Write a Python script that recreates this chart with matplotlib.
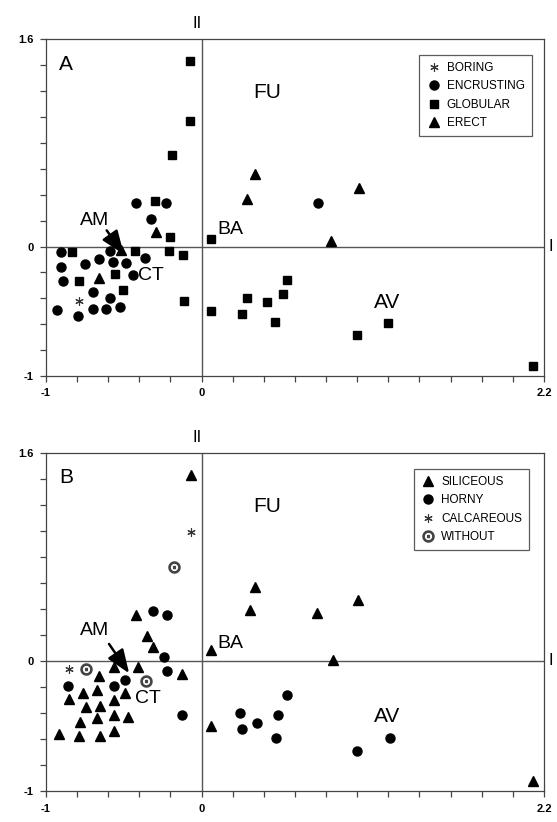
import matplotlib.pyplot as plt
import numpy as np
from matplotlib.ticker import FixedLocator, FixedFormatter

plt.rcParams['font.family'] = ['Liberation Sans', 'DejaVu Sans']

# Panel A: growth form
boring_x = [-0.785]
boring_y = [-0.42]
encrusting_x = [-0.42, -0.23, -0.327, 0.75, -0.906, -0.59, -0.906, -0.75, -0.66, -0.572,
                -0.487, -0.365, -0.893, -0.44, -0.697, -0.59, -0.927, -0.797, -0.697,
                -0.615, -0.526]
encrusting_y = [0.333, 0.333, 0.21, 0.333, -0.04, -0.034, -0.16, -0.136, -0.10, -0.12,
                -0.13, -0.092, -0.265, -0.22, -0.35, -0.40, -0.49, -0.54, -0.48,
                -0.48, -0.465]
globular_x = [-0.075, -0.075, -0.19, -0.30, -0.20, 0.058, -0.83, -0.43, -0.21, -0.12,
              -0.557, -0.786, -0.508, -0.114, 0.058, 0.257, 0.289, 0.42, 0.47, 0.52,
              0.55, 1.0, 1.2, 2.13]
globular_y = [1.435, 0.97, 0.705, 0.35, 0.077, 0.06, -0.04, -0.034, -0.034, -0.067,
              -0.213, -0.27, -0.336, -0.42, -0.50, -0.52, -0.40, -0.426, -0.585, -0.367,
              -0.26, -0.68, -0.59, -0.92]
erect_x = [-0.294, -0.659, 0.34, 0.29, 1.01, 0.83, -0.52]
erect_y = [0.112, -0.244, 0.56, 0.37, 0.45, 0.04, -0.03]

# Panel B: skeleton type
siliceous_x = [-0.07, 0.34, 0.31, 0.74, 1.005, 0.06, 0.845, 0.06, 2.13,
               -0.42, -0.35, -0.31, -0.124, -0.566, -0.41, -0.66, -0.67, -0.76, -0.85,
               -0.56, -0.49, -0.74, -0.65, -0.67, -0.56, -0.47, -0.78, -0.915, -0.79,
               -0.65, -0.56]
siliceous_y = [1.43, 0.57, 0.39, 0.37, 0.47, 0.08, 0.01, -0.50, -0.92,
               0.35, 0.19, 0.105, -0.10, -0.05, -0.045, -0.12, -0.22, -0.25, -0.295,
               -0.30, -0.25, -0.356, -0.35, -0.44, -0.415, -0.43, -0.47, -0.56, -0.58,
               -0.575, -0.535]
horny_x = [-0.31, -0.22, -0.24, -0.22, -0.124, -0.86, -0.566, -0.49, 0.55, 0.245, 0.49,
           0.26, 0.357, 0.48, 1.0, 1.21]
horny_y = [0.38, 0.35, 0.03, -0.08, -0.415, -0.19, -0.19, -0.15, -0.26, -0.40, -0.415,
           -0.525, -0.48, -0.595, -0.69, -0.595]
calcareous_x = [-0.066, -0.855]
calcareous_y = [0.99, -0.064]
without_x = [-0.18, -0.74, -0.36]
without_y = [0.72, -0.064, -0.154]

xticks = np.round(np.arange(-1, 2.21, 0.2), 1)
yticks = np.round(np.arange(-1, 1.61, 0.2), 1)
asterisk = (6, 2, 0)
am_arrow = dict(arrowstyle='-|>,head_length=0.9,head_width=0.35', color='black',
                lw=1.8, mutation_scale=16, shrinkA=0, shrinkB=0)


def setup_axes(ax, letter):
    ax.set_xlim(-1, 2.2)
    ax.set_ylim(-1, 1.6)
    ax.axhline(0, color='#555555', lw=1.0, zorder=1)
    ax.axvline(0, color='#555555', lw=1.0, zorder=1)
    for s in ax.spines.values():
        s.set_color('#444444')
        s.set_linewidth(0.9)
    ax.xaxis.set_major_locator(FixedLocator(xticks))
    ax.yaxis.set_major_locator(FixedLocator(yticks))
    ax.xaxis.set_major_formatter(FixedFormatter(
        ['-1' if v == -1 else '0' if v == 0 else '2.2' if v == 2.2 else '' for v in xticks]))
    ax.yaxis.set_major_formatter(FixedFormatter(
        ['-1' if v == -1 else '0' if v == 0 else '1.6' if v == 1.6 else '' for v in yticks]))
    ax.tick_params(direction='out', length=4, width=0.9, color='#444444',
                   labelsize=8, pad=5)
    for lab in ax.get_xticklabels() + ax.get_yticklabels():
        lab.set_fontweight('bold')
    ax.text(-0.87, 1.41, letter, fontsize=15, ha='center', va='center')
    ax.text(0.42, 1.19, 'FU', fontsize=15, ha='center', va='center')
    ax.text(1.19, -0.43, 'AV', fontsize=15, ha='center', va='center')
    ax.text(0.1, 0.135, 'BA', fontsize=14, ha='left', va='center')
    ax.text(-0.03, 1.72, 'II', fontsize=12, ha='center', va='center', clip_on=False)
    ax.text(2.228, 0, 'I', fontsize=12, ha='left', va='center', clip_on=False)


fig = plt.figure(figsize=(5.57, 8.22), dpi=100)
axA = fig.add_axes([0.0826, 0.5426, 0.894, 0.4094])
axB = fig.add_axes([0.0826, 0.0377, 0.894, 0.4116])

# Panel A
axA.plot(boring_x, boring_y, ls='none', marker=asterisk, ms=6, color='#333333',
         mew=0.8, label='BORING')
axA.plot(encrusting_x, encrusting_y, ls='none', marker='o', ms=6.5, color='black',
         label='ENCRUSTING')
axA.plot(globular_x, globular_y, ls='none', marker='s', ms=6, color='black',
         label='GLOBULAR')
axA.plot(erect_x, erect_y, ls='none', marker='^', ms=7, color='black', label='ERECT')
setup_axes(axA, 'A')
axA.text(-0.69, 0.2, 'AM', fontsize=14, ha='center', va='center')
axA.annotate('', xy=(-0.5, -0.06), xytext=(-0.61, 0.125), arrowprops=am_arrow)
axA.text(-0.41, -0.22, 'CT', fontsize=14, ha='left', va='center')
legA = axA.legend(loc='upper right', bbox_to_anchor=(0.987, 0.972), fontsize=8.5,
                  frameon=True, fancybox=False, edgecolor='#333333', borderpad=0.6,
                  handletextpad=0.5, handlelength=1.2, labelspacing=0.55)
legA.get_frame().set_linewidth(0.9)

# Panel B
axB.plot(siliceous_x, siliceous_y, ls='none', marker='^', ms=7, color='black',
         label='SILICEOUS')
axB.plot(horny_x, horny_y, ls='none', marker='o', ms=6.5, color='black', label='HORNY')
axB.plot(calcareous_x, calcareous_y, ls='none', marker=asterisk, ms=6, color='#333333',
         mew=0.8, label='CALCAREOUS')
axB.plot(without_x, without_y, ls='none', marker=r'$\odot$', ms=8, color='#444444',
         label='WITHOUT')
setup_axes(axB, 'B')
axB.text(-0.685, 0.23, 'AM', fontsize=14, ha='center', va='center')
axB.annotate('', xy=(-0.466, -0.095), xytext=(-0.595, 0.13), arrowprops=am_arrow)
axB.text(-0.43, -0.29, 'CT', fontsize=14, ha='left', va='center')
legB = axB.legend(loc='upper right', bbox_to_anchor=(0.982, 0.97), fontsize=8.5,
                  frameon=True, fancybox=False, edgecolor='#333333', borderpad=0.6,
                  handletextpad=0.5, handlelength=1.2, labelspacing=0.55)
legB.get_frame().set_linewidth(0.9)

fig.savefig('out.png', dpi=100)
